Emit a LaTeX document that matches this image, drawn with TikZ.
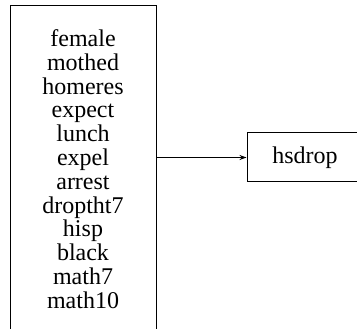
\documentclass[tikz,border=0pt]{standalone}
\usepackage{fontspec}
\setmainfont{Liberation Serif}
\usetikzlibrary{positioning, arrows.meta}
\tikzstyle{box} = [draw,line width=1pt,align=center,font=\fontsize{24}{23.8}\selectfont]
\tikzstyle{arrow} = [line width=1pt,-{Stealth[length=7pt,width=5pt]}]

\begin{document}
\begin{tikzpicture}[x=1pt,y=1pt,node distance=222pt,on grid]
	\path[use as bounding box,clip] (0,0) rectangle (357,-329);
	\node[box,minimum width=146pt,minimum height=326pt](vars) at (83,-169)
	{female\\mothed\\homeres\\expect\\lunch\\expel\\arrest\\droptht7\\hisp\\black\\math7\\math10};
	\node[box,minimum width=116pt,minimum height=49pt](y)[above right=11.5pt and 222pt of vars]{hsdrop};
	\draw[arrow] (y.west -| vars.east) -- (y.west);
\end{tikzpicture}
\end{document}
